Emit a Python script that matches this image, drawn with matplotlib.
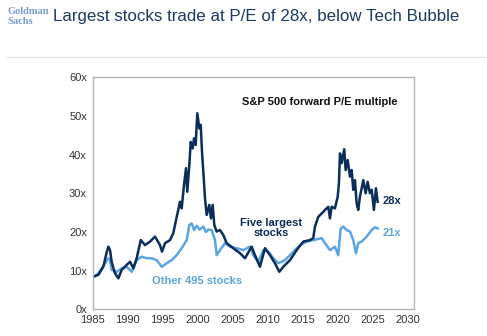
import matplotlib
matplotlib.use("Agg")
import matplotlib.pyplot as plt

# Five largest stocks, forward P/E
five_years = [1985.0, 1985.83, 1986.54, 1987.03, 1987.26, 1987.5, 1987.74, 1988.21, 1988.69,
              1989.17, 1989.89, 1990.36, 1990.83, 1991.31, 1991.89, 1992.5, 1993.21, 1993.93,
              1994.64, 1994.93, 1995.36, 1996.07, 1996.54, 1997.03, 1997.5, 1997.74, 1998.07,
              1998.36, 1998.54, 1998.83, 1999.03, 1999.31, 1999.5, 1999.74, 1999.97, 2000.26,
              2000.46, 2000.64, 2000.83, 2001.07, 2001.31, 2001.69, 2001.93, 2002.17, 2002.4,
              2002.74, 2003.21, 2003.69, 2004.17, 2005.11, 2006.07, 2006.79, 2007.74, 2008.21,
              2008.93, 2009.64, 2010.36, 2011.07, 2011.69, 2012.26, 2013.21, 2014.17, 2015.11,
              2016.07, 2016.54, 2016.79, 2017.26, 2017.97, 2018.21, 2018.69, 2018.93, 2019.17,
              2019.64, 2020.03, 2020.21, 2020.36, 2020.6, 2020.97, 2021.17, 2021.46, 2021.79,
              2022.03, 2022.26, 2022.5, 2022.74, 2022.97, 2023.21, 2023.46, 2023.69, 2024.03,
              2024.31, 2024.64, 2024.89, 2025.21, 2025.5, 2025.74]
five_pe = [8.4, 8.9, 11.0, 14.8, 16.2, 15.3, 12.2, 9.3, 8.0,
           10.2, 11.5, 12.3, 10.6, 13.2, 17.9, 16.6, 17.5, 18.8,
           16.6, 14.9, 17.1, 17.9, 19.7, 23.9, 27.8, 26.1, 32.1,
           36.5, 30.4, 37.3, 43.3, 41.6, 44.2, 42.5, 50.7, 46.8,
           47.7, 40.8, 35.6, 28.7, 24.4, 27.0, 23.5, 27.0, 21.8,
           20.1, 20.5, 19.2, 17.1, 15.8, 14.5, 13.2, 16.2, 14.0,
           11.0, 15.8, 14.0, 11.9, 9.7, 11.0, 12.7, 15.3, 17.5,
           17.9, 18.4, 21.4, 23.9, 25.2, 25.7, 26.5, 23.5, 26.5,
           26.1, 29.1, 32.6, 40.3, 37.8, 41.4, 36.0, 38.6, 34.3,
           36.0, 30.9, 33.4, 27.4, 25.7, 29.1, 31.3, 33.4, 30.0,
           33.0, 30.0, 30.9, 25.7, 31.3, 27.8]

# Other 495 stocks, forward P/E
other_years = [1985.0, 1985.83, 1986.79, 1987.26, 1987.5, 1987.74, 1988.46, 1989.17, 1989.89,
               1990.6, 1991.31, 1992.03, 1992.74, 1993.46, 1994.17, 1994.89, 1995.6, 1996.31,
               1997.03, 1997.74, 1998.46, 1998.83, 1999.17, 1999.5, 1999.89, 2000.3, 2000.83,
               2001.2, 2001.54, 2002.03, 2002.5, 2002.74, 2003.21, 2003.93, 2004.64, 2005.6,
               2006.54, 2007.5, 2007.97, 2008.69, 2009.4, 2010.11, 2010.83, 2011.54, 2012.5,
               2013.69, 2014.64, 2015.6, 2016.54, 2017.74, 2018.21, 2018.93, 2019.64, 2020.11,
               2020.46, 2020.83, 2021.31, 2021.79, 2022.26, 2022.64, 2022.97, 2023.46, 2024.17,
               2024.89, 2025.36, 2025.74]
other_pe = [8.0, 9.3, 11.9, 13.2, 12.7, 10.2, 9.7, 10.6, 11.0,
            9.7, 12.7, 13.6, 13.2, 13.2, 12.7, 11.0, 11.9, 12.7,
            14.0, 15.8, 17.9, 21.8, 22.2, 20.5, 21.6, 20.6, 21.4,
            20.0, 20.6, 20.5, 17.9, 14.0, 15.3, 17.1, 16.2, 15.8,
            15.3, 16.2, 14.0, 12.3, 15.3, 14.9, 13.2, 11.9, 12.7,
            14.9, 16.6, 17.5, 17.9, 18.4, 17.1, 15.3, 16.2, 14.0,
            20.9, 21.4, 20.5, 20.1, 17.9, 14.5, 17.1, 17.5, 18.8,
            20.5, 21.2, 20.9]

x_ticks = [1985, 1990, 1995, 2000, 2005, 2010, 2015, 2020, 2025, 2030]
y_ticks = [0, 10, 20, 30, 40, 50, 60]

dark = "#0b2d59"
light = "#5aa5e2"

plt.rcParams["font.family"] = ["Liberation Sans", "DejaVu Sans"]

fig = plt.figure(figsize=(4.87, 3.36), dpi=100)
ax = fig.add_axes([0.19, 0.0795, 0.661, 0.6905])

ax.plot(other_years, other_pe, color=light, lw=1.8)
ax.plot(five_years, five_pe, color=dark, lw=1.8)

ax.set_xlim(1985, 2031)
ax.set_ylim(0, 60)
ax.set_xticks(x_ticks)
ax.set_yticks(y_ticks)
ax.set_yticklabels([f"{v}x" for v in y_ticks])
ax.tick_params(length=0, labelsize=8, colors="#333333", pad=4)
for s in ax.spines.values():
    s.set_color("#b3b3b3")
    s.set_linewidth(1.0)

ax.text(2017.5, 53.5, "S&P 500 forward P/E multiple", fontsize=8, fontweight="bold",
        color="#111111", ha="center", va="center")
ax.text(2010.5, 21.1, "Five largest\nstocks", fontsize=8, fontweight="bold",
        color=dark, ha="center", va="center", linespacing=1.0)
ax.text(1999.9, 7.3, "Other 495 stocks", fontsize=8, fontweight="bold",
        color=light, ha="center", va="center")
ax.text(2026.5, 28.0, "28x", fontsize=8, fontweight="bold", color=dark, va="center")
ax.text(2026.5, 19.8, "21x", fontsize=8, fontweight="bold", color=light, va="center")

# header
fig.text(7 / 487, 1 - 12 / 336, "Goldman", fontsize=7.5, fontweight="bold",
         family="Liberation Serif", color="#7b9ccc", va="center")
fig.text(7 / 487, 1 - 21 / 336, "Sachs", fontsize=7.5, fontweight="bold",
         family="Liberation Serif", color="#7b9ccc", va="center")
fig.text(53 / 487, 1 - 16 / 336, "Largest stocks trade at P/E of 28x, below Tech Bubble",
         fontsize=12.2, color="#1c3a63", va="center")
fig.add_artist(plt.Line2D([7 / 487, 1], [1 - 57 / 336, 1 - 57 / 336],
                          color="#e6e6e6", lw=1.0))

fig.savefig("out.png", dpi=100)
